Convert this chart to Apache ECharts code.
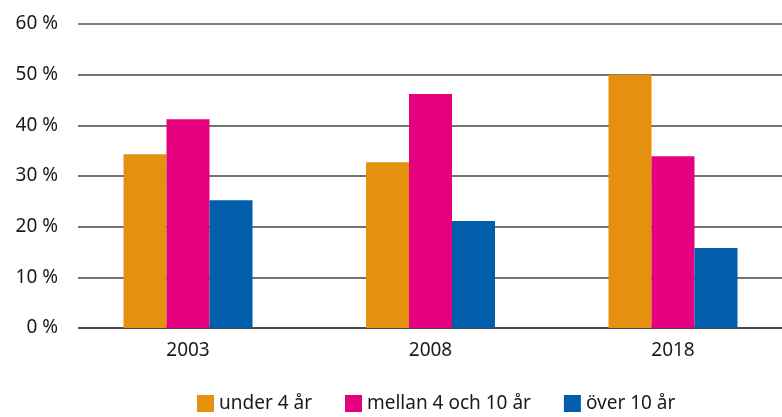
<!DOCTYPE html>
<html>
<head>
<meta charset="utf-8">
<script src="https://cdn.jsdelivr.net/npm/echarts@6/dist/echarts.min.js"></script>
<style>
  html, body { margin: 0; padding: 0; background: #fff; }
  #chart { width: 782px; height: 417px; }
</style>
</head>
<body>
<div id="chart"></div>
<script>
// data
const years = ["2003", "2008", "2018"];
const under4 = [34.3, 32.7, 50.0];
const mellan4och10 = [41.2, 46.2, 33.9];
const over10 = [25.2, 21.1, 15.8];
const seriesNames = ["under 4 år", "mellan 4 och 10 år", "över 10 år"];
const yTicks = [0, 10, 20, 30, 40, 50, 60];

const colors = ["#E5900E", "#E5007D", "#005EAA"];
const font = "'Noto Sans', sans-serif";

const chart = echarts.init(document.getElementById("chart"));

function toPoints(vals) {
  return vals.map((v, i) => [i, v]);
}

chart.setOption({
  animation: false,
  color: colors,
  textStyle: { fontFamily: font },
  grid: { left: 78, right: 0, top: 24, bottom: 89 },
  legend: {
    bottom: -1,
    left: 192,
    itemWidth: 17,
    itemHeight: 17,
    itemGap: 33,
    icon: "rect",
    selectedMode: false,
    textStyle: { fontSize: 19, color: "#1a1a1a", fontFamily: font },
    data: seriesNames,
  },
  xAxis: {
    type: "value",
    min: -0.4536,
    max: 2.4495,
    axisLine: { show: false },
    axisTick: { show: false },
    splitLine: { show: false },
    axisLabel: {
      customValues: [0, 1, 2],
      formatter: (v) => years[Math.round(v)],
      fontSize: 19,
      color: "#1a1a1a",
      margin: 13,
    },
  },
  yAxis: {
    type: "value",
    min: 0,
    max: 60,
    interval: 10,
    axisLine: { show: false },
    axisTick: { show: false },
    axisLabel: {
      formatter: (v) => (yTicks.includes(v) ? v + " %" : ""),
      fontSize: 19,
      color: "#1a1a1a",
      margin: 20,
    },
    splitLine: {
      lineStyle: {
        color: ["#111", "#444", "#444", "#444", "#444", "#444", "#555"],
        width: 1.6,
      },
    },
  },
  series: [
    { name: seriesNames[0], type: "bar", barWidth: 43, barGap: "0%", data: toPoints(under4) },
    { name: seriesNames[1], type: "bar", barWidth: 43, barGap: "0%", data: toPoints(mellan4och10) },
    { name: seriesNames[2], type: "bar", barWidth: 43, barGap: "0%", data: toPoints(over10) },
  ],
});
</script>
</body>
</html>
